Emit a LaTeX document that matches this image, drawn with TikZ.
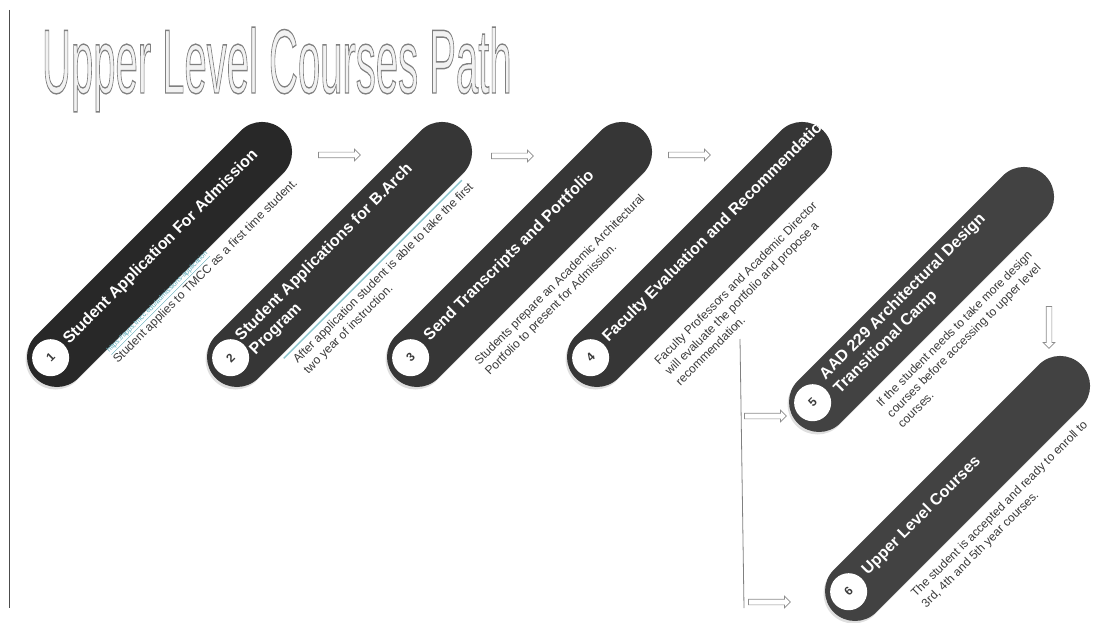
\documentclass[tikz,border=0pt]{standalone}
\usepackage{fontspec}
\setmainfont{Liberation Sans}
\usetikzlibrary{arrows.meta,shadows,shapes.arrows}

\definecolor{pillA}{HTML}{282828}
\definecolor{pillB}{HTML}{363636}
\definecolor{pillC}{HTML}{424242}
\definecolor{notegray}{HTML}{3A3A3A}
\definecolor{linkteal}{HTML}{5AAAB8}
\definecolor{titlefill}{HTML}{F2F2F2}

% outlined letters for the big title
\newcommand{\hollowtext}[1]{\special{pdf:literal direct 0.5 0.5 0.5 RG 1.4 w 2 Tr}#1\special{pdf:literal direct 0 Tr}}

\tikzset{
  pill/.style={fill=#1, rounded corners=30pt,
    drop shadow={opacity=0.25, shadow xshift=-1.5pt, shadow yshift=-2.5pt}},
  numdot/.style={circle, fill=white, minimum size=37pt, inner sep=0pt,
    text=notegray, font=\bfseries\fontsize{12}{12}\selectfont},
  heading/.style={anchor=west, align=left, inner sep=0pt, text=white,
    font=\bfseries\fontsize{16}{20}\selectfont},
  blurb/.style={anchor=north west, align=left, inner sep=0pt, text=notegray,
    font=\fontsize{12}{15}\selectfont},
  weblink/.style={anchor=base west, inner sep=0pt, text=linkteal,
    font=\fontsize{7}{7}\selectfont},
  flow/.style={single arrow, draw=gray!90, fill=white, line width=0.7pt,
    minimum height=42pt, minimum width=11pt, single arrow head extend=3pt,
    inner xsep=0pt, inner ysep=2.5pt, text height=0pt, text depth=0pt},
}

\begin{document}
\begin{tikzpicture}[x=1pt, y=1pt]
  \useasboundingbox (0,0) rectangle (1097,622);

  \draw[black!70, line width=0.8pt] (9,612) -- (9,14);
  \node[anchor=base west, inner sep=0pt, xscale=0.44, text=titlefill,
    font=\fontsize{91}{91}\selectfont] (title) at (42,529) {\hollowtext{Upper Level Courses Path}};

  % step 1
  \begin{scope}[shift={(57,265)}, rotate=45, transform shape]
    \fill[pill=pillA] (-30,-30) rectangle (320,30);
    \node[numdot] (n1) at (-5,4) {1};
    \node[heading] (head1) at (17,4) {Student Application For Admission};
    \node[weblink] (link1) at (40,-34) {\underline{https://apps.tmcc.edu/admissions-application}};
    \node[blurb] (note1) at (38,-39) {Student applies to TMCC as a first time student.};
  \end{scope}

  % step 2
  \begin{scope}[shift={(237,265)}, rotate=45, transform shape]
    \fill[pill=pillB] (-30,-30) rectangle (320,30);
    \node[numdot] (n2) at (-5,4) {2};
    \node[heading] (head2) at (14,2) {Student Applications for B.Arch\\Program};
    \draw[linkteal!70, line width=1.4pt] (32,-34) -- (284,-34);
    \node[blurb] (note2) at (38,-39) {After application student is able to take the first\\two year of instruction.};
  \end{scope}

  % step 3
  \begin{scope}[shift={(417,265)}, rotate=45, transform shape]
    \fill[pill=pillB] (-30,-30) rectangle (320,30);
    \node[numdot] (n3) at (-5,4) {3};
    \node[heading] (head3) at (20,6) {Send Transcripts and Portfolio};
    \node[blurb] (note3) at (38,-41) {Students prepare an Academic Architectural\\Portfolio to present for Admission.};
  \end{scope}

  % step 4
  \begin{scope}[shift={(597,265)}, rotate=45, transform shape]
    \fill[pill=pillB] (-30,-30) rectangle (320,30);
    \node[numdot] (n4) at (-5,4) {4};
    \begin{scope}
      \clip[rounded corners=30pt] (-30,-30) rectangle (320,30);
      \node[heading] (head4) at (18,6) {Faculty Evaluation and Recommendation};
    \end{scope}
    \node[blurb] (note4) at (38,-41) {Faculty Professors and Academic Director\\will evaluate the portfolio and propose a\\recommendation.};
  \end{scope}

  % step 5
  \begin{scope}[shift={(819,220)}, rotate=45, transform shape]
    \fill[pill=pillC] (-30,-30) rectangle (320,30);
    \node[numdot] (n5) at (-5,4) {5};
    \node[heading] (head5) at (20,5) {AAD 229 Architectural Design\\Transitional Camp};
    \node[blurb] (note5) at (40,-39) {If the student needs to take more design\\courses before accessing to upper level\\courses.};
  \end{scope}

  % step 6
  \begin{scope}[shift={(855,31)}, rotate=45, transform shape]
    \fill[pill=pillC] (-30,-30) rectangle (320,30);
    \node[numdot] (n6) at (-5,4) {6};
    \node[heading] (head6) at (20,6) {Upper Level Courses};
    \node[blurb] (note6) at (38,-39) {The student is accepted and ready to enroll to\\3rd, 4th and 5th year courses.};
  \end{scope}

  % arrows between steps
  \node[flow] (arr1) at (338,467) {};
  \node[flow] (arr2) at (511,466) {};
  \node[flow] (arr3) at (688,467) {};
  \node[flow, rotate=-90] (arrdown) at (1049,296) {};

  % split after evaluation
  \coordinate (splittop) at (740,283);
  \coordinate (splitbot) at (744,14);
  \draw[gray, line width=0.8pt] (splittop) -- (splitbot);
  \node[flow] (arr5) at (764,206) {};
  \node[flow] (arr6) at (768,20) {};
\end{tikzpicture}
\end{document}
